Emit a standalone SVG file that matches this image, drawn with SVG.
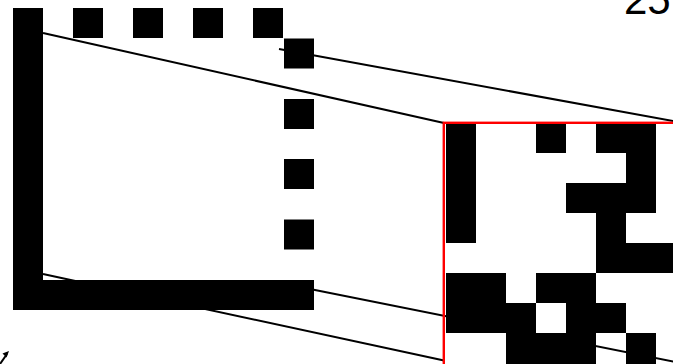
<svg xmlns="http://www.w3.org/2000/svg" width="673" height="364" viewBox="0 0 673 364">
<style>
.m{fill:#000}
.ln{stroke:#000;stroke-width:2;fill:none}
.lbl{font-family:"Liberation Sans",Arial,sans-serif;font-size:42px;fill:#000}
</style>
<rect width="673" height="364" fill="#fff"/>
<g id="connectors">
<line class="ln" x1="43" y1="33" x2="444" y2="123"/>
<line class="ln" x1="279" y1="49" x2="700" y2="126"/>
<line class="ln" x1="43" y1="274" x2="444" y2="360.5"/>
<line class="ln" x1="280" y1="283" x2="700" y2="367"/>
</g>
<g id="source-matrix">
<rect class="m" x="13" y="8" width="30" height="302"/>
<rect class="m" x="13" y="280" width="301" height="30"/>
<rect class="m" x="73" y="8" width="30" height="30"/>
<rect class="m" x="133" y="8" width="30" height="30"/>
<rect class="m" x="193" y="8" width="30" height="30"/>
<rect class="m" x="253" y="8" width="30" height="30"/>
<rect class="m" x="284" y="38.5" width="30" height="30"/>
<rect class="m" x="284" y="99" width="30" height="30"/>
<rect class="m" x="284" y="159" width="30" height="30"/>
<rect class="m" x="284" y="219.5" width="30" height="30"/>
</g>
<g id="inset">
<g class="m">
<rect x="446" y="123" width="30" height="120"/>
<rect x="536" y="123" width="30" height="30"/>
<rect x="596" y="123" width="60" height="30"/>
<rect x="626" y="153" width="30" height="30"/>
<rect x="566" y="183" width="90" height="30"/>
<rect x="596" y="213" width="30" height="30"/>
<rect x="596" y="243" width="90" height="30"/>
<rect x="446" y="273" width="60" height="30"/>
<rect x="536" y="273" width="60" height="30"/>
<rect x="446" y="303" width="90" height="30"/>
<rect x="566" y="303" width="60" height="30"/>
<rect x="506" y="333" width="90" height="31"/>
<rect x="626" y="333" width="30" height="31"/>
</g>
<rect x="443.8" y="122.8" width="300" height="300" fill="none" stroke="#ff0000" stroke-width="2.4"/>
</g>
<text class="lbl" x="624" y="14">25</text>
<g id="arrow">
<path d="M0,364 L7,354" stroke="#000" stroke-width="2" fill="none"/>
<path d="M9,351 L2.5,353.5 L6.5,357.5 Z" fill="#000"/>
</g>
</svg>
